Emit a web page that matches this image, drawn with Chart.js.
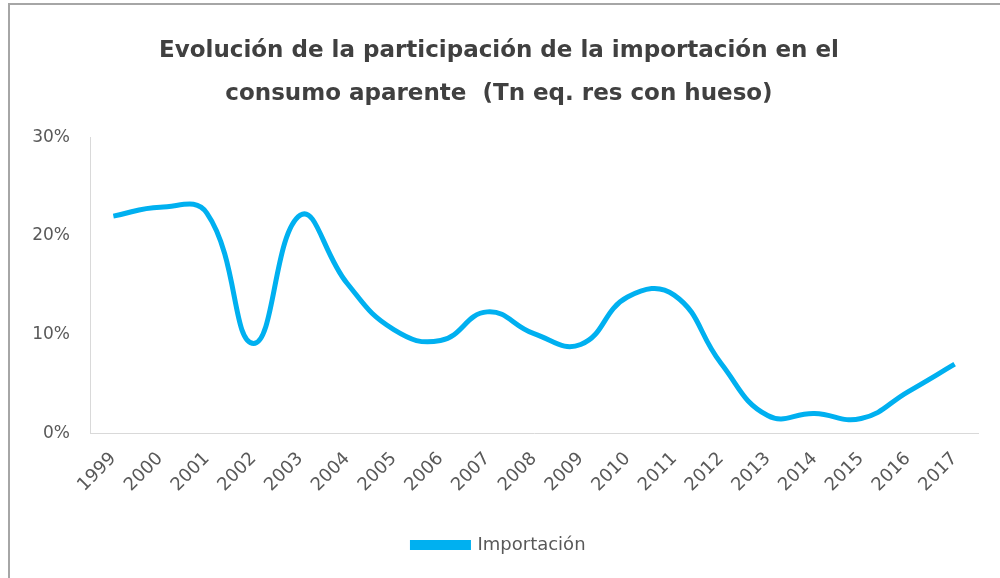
<!DOCTYPE html>
<html>
<head>
<meta charset="utf-8">
<script src="https://cdn.jsdelivr.net/npm/chart.js@4/dist/chart.umd.min.js"></script>
<style>
  html, body { margin: 0; padding: 0; background: #fff; overflow: hidden; }
  #frame {
    position: absolute; left: 8px; top: 3px;
    width: 1010px; height: 600px;
    border: 2px solid #a6a6a6; box-sizing: border-box;
  }
  #wrap { position: absolute; left: 0; top: 0; width: 1000px; height: 578px; }
</style>
</head>
<body>
<div id="frame"></div>
<div id="wrap"><canvas id="chart" width="1000" height="578"></canvas></div>
<script>
/*********************************************************
 * DATA
 *********************************************************/
const years = ["1999", "2000", "2001", "2002", "2003", "2004", "2005", "2006", "2007", "2008",
               "2009", "2010", "2011", "2012", "2013", "2014", "2015", "2016", "2017"];
const importacion = [22.0, 22.9, 22.3, 9.1, 22.1, 15.2, 10.5, 9.4, 12.3, 10.1,
                     9.0, 13.8, 14.0, 7.1, 1.8, 2.0, 1.5, 4.2, 7.0];
const yTicks = [0, 10, 20, 30];

const titleLines = [
  "Evolución de la participación de la importación en el",
  "consumo aparente  (Tn eq. res con hueso)"
];

/*********************************************************
 * CHART
 *********************************************************/
const FONT = "'DejaVu Sans', 'Liberation Sans', sans-serif";
const ctx = document.getElementById("chart").getContext("2d");

new Chart(ctx, {
  type: "line",
  data: {
    labels: years,
    datasets: [{
      label: "Importación",
      data: importacion,
      borderColor: "#00b0f0",
      backgroundColor: "#00b0f0",
      borderWidth: 5,
      pointRadius: 0,
      tension: 0.45,
      fill: false
    }]
  },
  options: {
    responsive: false,
    animation: false,
    layout: { padding: { left: 20, right: 22, top: 20, bottom: 14 } },
    plugins: {
      title: {
        display: true,
        text: titleLines,
        color: "#404040",
        font: { family: FONT, size: 23, weight: "bold", lineHeight: 1.85 },
        padding: { top: 10, bottom: 22 }
      },
      legend: {
        position: "bottom",
        labels: {
          color: "#595959",
          font: { family: FONT, size: 18 },
          boxWidth: 56,
          boxHeight: 5,
          padding: 22
        }
      },
      tooltip: { enabled: false }
    },
    scales: {
      x: {
        offset: true,
        afterFit: s => { s.height += 3; },
        grid: { display: false, drawTicks: false },
        border: { color: "#d9d9d9", width: 1 },
        ticks: {
          color: "#595959",
          font: { family: FONT, size: 18 },
          minRotation: 45,
          maxRotation: 45,
          padding: 15
        }
      },
      y: {
        min: 0,
        max: 30,
        afterBuildTicks: s => { s.ticks = yTicks.map(v => ({ value: v })); },
        afterFit: s => { s.width = 70; },
        grid: { display: false, drawTicks: false },
        border: { color: "#d9d9d9", width: 1 },
        ticks: {
          color: "#595959",
          font: { family: FONT, size: 17 },
          padding: 20,
          callback: v => v + "%"
        }
      }
    }
  }
});
</script>
</body>
</html>
